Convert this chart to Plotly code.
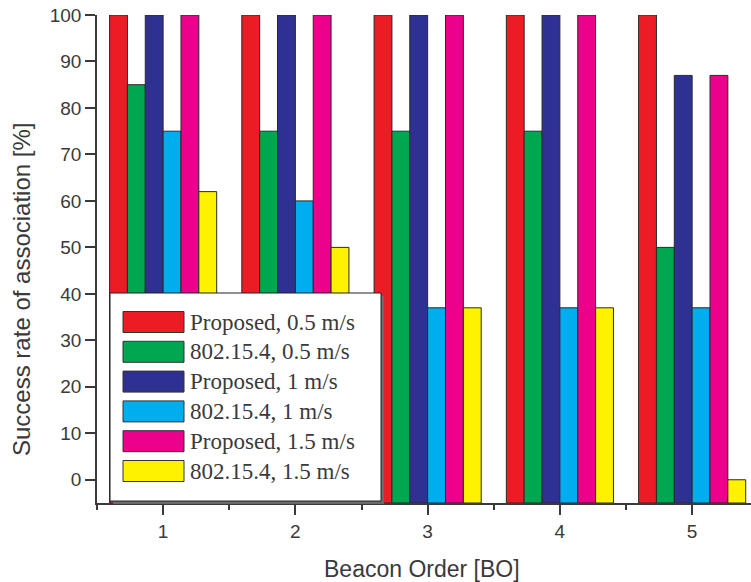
import plotly.graph_objects as go

# ---- data ----
beacon_order = [1, 2, 3, 4, 5]
series_names = [
    "Proposed, 0.5 m/s",
    "802.15.4, 0.5 m/s",
    "Proposed, 1 m/s",
    "802.15.4, 1 m/s",
    "Proposed, 1.5 m/s",
    "802.15.4, 1.5 m/s",
]
proposed_05 = [100, 100, 100, 100, 100]
ieee_05 = [85, 75, 75, 75, 50]
proposed_1 = [100, 100, 100, 100, 87]
ieee_1 = [75, 60, 37, 37, 37]
proposed_15 = [100, 100, 100, 100, 87]
ieee_15 = [62, 50, 37, 37, 0]
y_tick_values = [0, 10, 20, 30, 40, 50, 60, 70, 80, 90, 100]
x_tick_values = [1, 2, 3, 4, 5]

series_values = [proposed_05, ieee_05, proposed_1, ieee_1, proposed_15, ieee_15]
colors = ["#ED1C24", "#00A650", "#2E3192", "#00AEEF", "#EC008C", "#FFF200"]

# ---- layout constants ----
W, H = 751, 582
ML, MR, MT, MB = 97, 0, 15, 79
Y_MIN, Y_MAX = -5, 100
X_MIN, X_MAX = 0.5, 5.445
AXIS_COLOR = "#3a3a3a"
TEXT_COLOR = "#3a3a3a"

PW = W - ML - MR
PH = H - MT - MB


def px_x(px):
    return (px - ML) / PW


def px_y(py):
    return (H - MB - py) / PH


fig = go.Figure()
for name, vals, col in zip(series_names, series_values, colors):
    fig.add_trace(go.Bar(
        x=beacon_order,
        y=[v - Y_MIN for v in vals],
        base=Y_MIN,
        name=name,
        marker=dict(color=col, line=dict(color="#2a2a2a", width=1)),
        showlegend=False,
    ))

shapes = []
annotations = []

# custom legend box (shadow + box)
box_l, box_r, box_t, box_b = 110, 381, 293, 501
shapes.append(dict(type="rect", xref="paper", yref="paper",
                   x0=px_x(box_l + 3), x1=px_x(box_r + 3),
                   y0=px_y(box_b + 3), y1=px_y(box_t + 3),
                   fillcolor="#6a6a6a", line=dict(width=0), layer="above"))
shapes.append(dict(type="rect", xref="paper", yref="paper",
                   x0=px_x(box_l), x1=px_x(box_r),
                   y0=px_y(box_b), y1=px_y(box_t),
                   fillcolor="white", line=dict(color="#222222", width=1), layer="above"))

sw_l, sw_r, sw_h = 123, 184, 21
first_center, pitch = 322, 29.8
for i, (name, col) in enumerate(zip(series_names, colors)):
    cy = first_center + i * pitch
    shapes.append(dict(type="rect", xref="paper", yref="paper",
                       x0=px_x(sw_l), x1=px_x(sw_r),
                       y0=px_y(cy + sw_h / 2), y1=px_y(cy - sw_h / 2),
                       fillcolor=col, line=dict(color="#333333", width=1), layer="above"))
    annotations.append(dict(xref="paper", yref="paper", x=px_x(188), y=px_y(cy),
                            text=name, showarrow=False, xanchor="left", yanchor="middle",
                            font=dict(family="Liberation Serif", size=23, color=TEXT_COLOR)))

# axis titles
annotations.append(dict(xref="paper", yref="paper", x=px_x(422), y=px_y(569),
                        text="Beacon Order [BO]", showarrow=False,
                        xanchor="center", yanchor="middle",
                        font=dict(family="Liberation Sans", size=23, color=TEXT_COLOR)))
annotations.append(dict(xref="paper", yref="paper", x=px_x(21), y=px_y(289),
                        text="Success rate of association [%]", showarrow=False,
                        textangle=-90, xanchor="center", yanchor="middle",
                        font=dict(family="Liberation Sans", size=24, color=TEXT_COLOR)))

fig.update_layout(
    width=W, height=H,
    margin=dict(l=ML, r=MR, t=MT, b=MB),
    paper_bgcolor="white", plot_bgcolor="white",
    barmode="group", bargap=0.19, bargroupgap=0,
    shapes=shapes, annotations=annotations,
    showlegend=False,
    font=dict(family="Liberation Sans", color=TEXT_COLOR),
    xaxis=dict(
        range=[X_MIN, X_MAX], tickmode="array", tickvals=x_tick_values,
        ticks="outside", ticklen=10, tickwidth=1.5, tickcolor=AXIS_COLOR,
        showline=True, linecolor=AXIS_COLOR, linewidth=1.5,
        showgrid=False, zeroline=False,
        tickfont=dict(size=19, color=TEXT_COLOR),
        minor=dict(ticks="outside", ticklen=5, tickwidth=1.5, tickcolor=AXIS_COLOR,
                   dtick=0.5, tick0=0.5, showgrid=False),
    ),
    yaxis=dict(
        range=[Y_MIN, Y_MAX], tickmode="array", tickvals=y_tick_values,
        ticks="outside", ticklen=10, tickwidth=1.5, tickcolor=AXIS_COLOR,
        showline=True, linecolor=AXIS_COLOR, linewidth=1.5,
        showgrid=False, zeroline=False,
        tickfont=dict(size=19, color=TEXT_COLOR),
    ),
)

fig.write_html("out.html")
